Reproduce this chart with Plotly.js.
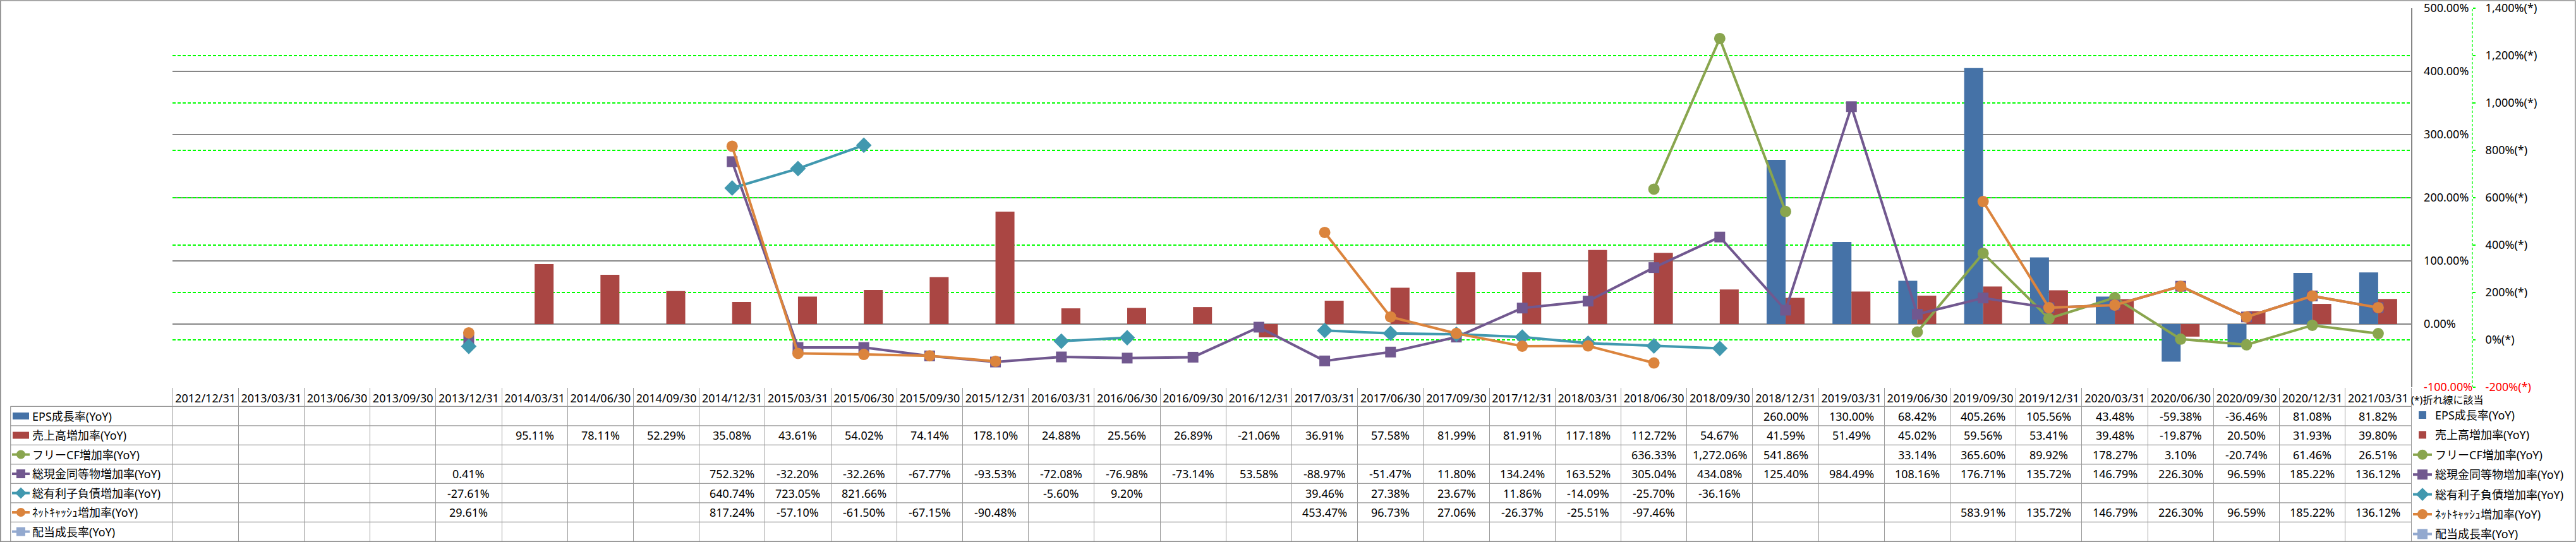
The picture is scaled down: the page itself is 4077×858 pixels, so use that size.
<!DOCTYPE html>
<html><head><meta charset="utf-8">
<script src="https://cdn.plot.ly/plotly-3.0.1.min.js"></script>
<style>html,body{margin:0;padding:0;background:#fff;}#chart{width:4077px;height:858px;}</style>
</head><body><div id="chart"></div>
<script>
// ---------------- data ----------------
const dates = ['2012/12/31','2013/03/31','2013/06/30','2013/09/30','2013/12/31','2014/03/31','2014/06/30','2014/09/30','2014/12/31','2015/03/31','2015/06/30','2015/09/30','2015/12/31','2016/03/31','2016/06/30','2016/09/30','2016/12/31','2017/03/31','2017/06/30','2017/09/30','2017/12/31','2018/03/31','2018/06/30','2018/09/30','2018/12/31','2019/03/31','2019/06/30','2019/09/30','2019/12/31','2020/03/31','2020/06/30','2020/09/30','2020/12/31','2021/03/31'];
const epsGrowth = [null,null,null,null,null,null,null,null,null,null,null,null,null,null,null,null,null,null,null,null,null,null,null,null,260.00,130.00,68.42,405.26,105.56,43.48,-59.38,-36.46,81.08,81.82];
const salesGrowth = [null,null,null,null,null,95.11,78.11,52.29,35.08,43.61,54.02,74.14,178.10,24.88,25.56,26.89,-21.06,36.91,57.58,81.99,81.91,117.18,112.72,54.67,41.59,51.49,45.02,59.56,53.41,39.48,-19.87,20.50,31.93,39.80];
const fcfGrowth = [null,null,null,null,null,null,null,null,null,null,null,null,null,null,null,null,null,null,null,null,null,null,636.33,1272.06,541.86,null,33.14,365.60,89.92,178.27,3.10,-20.74,61.46,26.51];
const cashGrowth = [null,null,null,null,0.41,null,null,null,752.32,-32.20,-32.26,-67.77,-93.53,-72.08,-76.98,-73.14,53.58,-88.97,-51.47,11.80,134.24,163.52,305.04,434.08,125.40,984.49,108.16,176.71,135.72,146.79,226.30,96.59,185.22,136.12];
const debtGrowth = [null,null,null,null,-27.61,null,null,null,640.74,723.05,821.66,null,null,-5.60,9.20,null,null,39.46,27.38,23.67,11.86,-14.09,-25.70,-36.16,null,null,null,null,null,null,null,null,null,null];
const netCashGrowth = [null,null,null,null,29.61,null,null,null,817.24,-57.10,-61.50,-67.15,-90.48,null,null,null,null,453.47,96.73,27.06,-26.37,-25.51,-97.46,null,null,null,null,583.91,135.72,146.79,226.30,96.59,185.22,136.12];
const dividendGrowth = dates.map(() => null);

const seriesNames = ['EPS成長率(YoY)','売上高増加率(YoY)','フリーCF増加率(YoY)','総現金同等物増加率(YoY)','総有利子負債増加率(YoY)','ﾈｯﾄｷｬｯｼｭ増加率(YoY)','配当成長率(YoY)'];
const leftTickVals = [-100,0,100,200,300,400,500];
const leftTickText = ['-100.00%','0.00%','100.00%','200.00%','300.00%','400.00%','500.00%'];
const rightTickVals = [-200,0,200,400,600,800,1000,1200,1400];
const rightTickText = ['-200%(*)','0%(*)','200%(*)','400%(*)','600%(*)','800%(*)','1,000%(*)','1,200%(*)','1,400%(*)'];
const legendNote = '(*)折れ線に該当';

// ---------------- styles / layout geometry ----------------
const FONT = "'Noto Sans', 'Noto Sans CJK JP', sans-serif";
const colors = ['#4572A7','#AA4643','#89A54E','#71588F','#4198AF','#DB843D','#93A9CF'];
const symbols = [null,null,'circle','square','diamond','circle','square'];
const W = 4077, H = 858;
const plotL = 273, plotR = 3913, plotT = 13, plotB = 613, xEnd = 3816;
const pw = plotR - plotL, ph = plotB - plotT;
const px2x = p => (p - plotL) / pw;
const py2y = p => (plotB - p) / ph;
const rowTop = 643.3, rowH = 30.5, tableLeft = 16.7, tableBottom = 857;
const rowCenter = r => rowTop + rowH * (r + 0.5);
const gridGray = '#868686', tableGray = '#9a9a9a';

const fmt = v => v.toLocaleString('en-US', {minimumFractionDigits: 2, maximumFractionDigits: 2}) + '%';
const redNeg = t => t.startsWith('-') ? '<span style="color:#FF0000">' + t + '</span>' : t;

const allSeries = [epsGrowth, salesGrowth, fcfGrowth, cashGrowth, debtGrowth, netCashGrowth, dividendGrowth];

// ---------------- traces ----------------
const traces = [];
[0,1].forEach(k => traces.push({
  type: 'bar', name: seriesNames[k], x: dates, y: allSeries[k], xaxis: 'x', yaxis: 'y',
  marker: {color: colors[k], line: {width: 0}}, legendgroup: 'g' + k, hoverinfo: 'skip'
}));
[2,3,4,5,6].forEach(k => traces.push({
  type: 'scatter', mode: 'lines+markers', name: seriesNames[k], x: dates, y: allSeries[k],
  xaxis: k === 6 ? 'x2' : 'x', yaxis: 'y2', connectgaps: false,
  line: {color: colors[k], width: 4},
  marker: {color: colors[k], symbol: symbols[k], size: symbols[k] === 'diamond' ? 19 : (symbols[k] === 'square' ? 17 : 18), line: {width: 0}},
  legendgroup: 'g' + k, hoverinfo: 'skip'
}));

// ---------------- table: annotations & shapes ----------------
const annotations = [];
const shapes = [];
allSeries.forEach((arr, r) => {
  arr.forEach((v, i) => {
    if (v === null) return;
    annotations.push({xref: 'x', yref: 'paper', x: dates[i], y: py2y(rowCenter(r)), text: fmt(v),
      showarrow: false, xanchor: 'center', yanchor: 'middle', font: {size: 18, color: '#000', family: FONT}});
  });
  annotations.push({xref: 'paper', yref: 'paper', x: px2x(49), y: py2y(rowCenter(r)), text: seriesNames[r],
    showarrow: false, xanchor: 'left', yanchor: 'middle', font: {size: 18, color: '#000', family: FONT}});
  const yc = py2y(rowCenter(r)), xc = px2x(33);
  const base = {xref: 'paper', yref: 'paper', xsizemode: 'pixel', ysizemode: 'pixel', xanchor: xc, yanchor: yc};
  if (r < 2) {
    shapes.push(Object.assign({type: 'rect', x0: -13, x1: 13, y0: -5.5, y1: 5.5, fillcolor: colors[r], line: {width: 0}}, base));
  } else {
    shapes.push(Object.assign({type: 'line', x0: -14, x1: 14, y0: 0, y1: 0, line: {color: colors[r], width: 4}}, base));
    const s = symbols[r];
    if (s === 'circle') shapes.push(Object.assign({type: 'circle', x0: -7, x1: 7, y0: -7, y1: 7, fillcolor: colors[r], line: {width: 0}}, base));
    if (s === 'square') shapes.push(Object.assign({type: 'rect', x0: -7, x1: 7, y0: -7, y1: 7, fillcolor: colors[r], line: {width: 0}}, base));
    if (s === 'diamond') shapes.push(Object.assign({type: 'path', path: 'M0,9L9,0L0,-9L-9,0Z', fillcolor: colors[r], line: {width: 0}}, base));
  }
});
for (let k = 0; k < 7; k++) {
  const y = py2y(rowTop + rowH * k);
  shapes.push({type: 'line', xref: 'paper', yref: 'paper', x0: px2x(tableLeft), x1: px2x(xEnd), y0: y, y1: y, line: {color: tableGray, width: 1.3}});
}
shapes.push({type: 'line', xref: 'paper', yref: 'paper', x0: px2x(tableLeft), x1: px2x(tableLeft), y0: py2y(rowTop), y1: py2y(tableBottom), line: {color: tableGray, width: 1.3}});
shapes.push({type: 'rect', xref: 'paper', yref: 'paper', x0: px2x(0.8), x1: px2x(W - 1.2), y0: py2y(857.2), y1: py2y(1), line: {color: '#8a8a8a', width: 1.6}, fillcolor: 'rgba(0,0,0,0)'});
shapes.push({type: 'line', xref: 'paper', yref: 'paper', x0: 1, x1: 1, y0: 0, y1: 1, line: {color: '#00FF00', width: 1.3, dash: '4px,3px'}});

// ---------------- layout ----------------
const layout = {
  width: W, height: H,
  margin: {l: plotL, r: W - plotR, t: plotT, b: H - plotB, pad: 0, autoexpand: false},
  paper_bgcolor: '#fff', plot_bgcolor: 'rgba(0,0,0,0)',
  font: {family: FONT, size: 18, color: '#000'},
  barmode: 'group', bargap: 0.424, bargroupgap: 0,
  hovermode: false,
  xaxis: {type: 'category', categoryorder: 'array', categoryarray: dates, range: [-0.5, dates.length - 0.5],
    domain: [0, px2x(xEnd)], anchor: 'y', tickmode: 'array', tickvals: dates, tickson: 'boundaries',
    ticks: 'outside', ticklen: tableBottom - plotB, tickwidth: 1, tickcolor: tableGray,
    showticklabels: false, showgrid: false, zeroline: false, showline: false, fixedrange: true, automargin: false},
  xaxis2: {type: 'category', overlaying: 'x', categoryorder: 'array', categoryarray: dates, range: [-0.5, dates.length - 0.5],
    anchor: 'y', side: 'bottom', tickmode: 'array', tickvals: dates, ticktext: dates, tickangle: 0,
    ticks: '', showticklabels: true, tickfont: {size: 18, color: '#000', family: FONT}, ticklabelstandoff: 5,
    showgrid: false, zeroline: false, showline: false, fixedrange: true, automargin: false},
  yaxis: {range: [-100, 500], side: 'right', anchor: 'x', tickmode: 'array', tickvals: leftTickVals,
    ticktext: leftTickText.map(redNeg), ticks: '', ticklabelstandoff: 15, tickfont: {size: 18, color: '#000', family: FONT},
    showgrid: true, gridcolor: gridGray, gridwidth: 1.5, zeroline: false, showline: true, linecolor: gridGray, linewidth: 1.5, fixedrange: true, automargin: false},
  yaxis2: {range: [-200, 1400], overlaying: 'y', side: 'right', anchor: 'free', position: 1, tickmode: 'array',
    tickvals: rightTickVals, ticktext: rightTickText.map(redNeg), ticks: 'outside', ticklen: 4, tickwidth: 1.3, tickcolor: '#00FF00',
    ticklabelstandoff: 12, tickfont: {size: 18, color: '#000', family: FONT},
    showgrid: true, gridcolor: '#00FF00', gridwidth: 1.3, griddash: '5px,3px', zeroline: false, showline: false, fixedrange: true, automargin: false},
  showlegend: true,
  legend: {xref: 'container', yref: 'container', x: 3814 / W, y: 1 - 618 / H, xanchor: 'left', yanchor: 'top',
    bgcolor: 'rgba(0,0,0,0)', borderwidth: 0, tracegroupgap: 5, itemwidth: 30, traceorder: 'grouped',
    font: {size: 18, color: '#000', family: FONT},
    title: {text: legendNote, font: {size: 16, color: '#000', family: FONT}}},
  annotations: annotations,
  shapes: shapes
};

Plotly.newPlot('chart', traces, layout, {displayModeBar: false, staticPlot: true});
</script></body></html>
